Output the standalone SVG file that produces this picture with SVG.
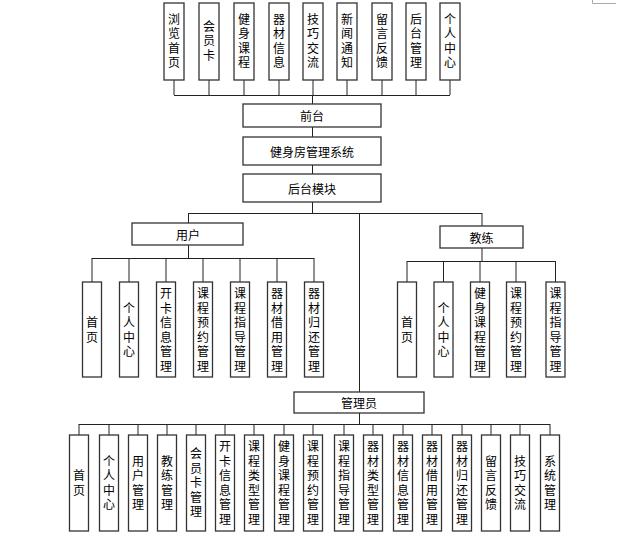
<svg xmlns="http://www.w3.org/2000/svg" width="642" height="545" viewBox="0 0 642 545">
<style>
.box{fill:#fff;stroke:#333;stroke-width:1.3}
.ln{fill:none;stroke:#222;stroke-width:1}
text{font-family:"Noto Sans CJK SC","Noto Sans",sans-serif;font-size:12px;fill:#000;text-anchor:middle;dominant-baseline:central}
text.v{writing-mode:vertical-rl;letter-spacing:2.5px}
</style>
<rect width="642" height="545" fill="#fff"/>
<path d="M592.5 0V3.5H616" fill="none" stroke="#aaa" stroke-width="1"/>
<g id="connectors">
<path class="ln" d="M174 80V95M209 80V95M244 80V95M279 80V95M313 80V95M347 80V95M382 80V95M416 80V95M450 80V95M174 95.5H450M312.5 95V104"/>
<path class="ln" d="M312.5 127V137M312.5 165V174M312.5 202V213"/>
<path class="ln" d="M188 213.5H482M188.5 213V223M482 213V226M359.5 213V392"/>
<path class="ln" d="M188.5 245V258M92 258.5H314M92 258V282M129 258V282M166 258V282M203 258V282M240 258V282M277 258V282M314 258V282"/>
<path class="ln" d="M482 248V261M407 261.5H556M407 261V282M443.5 261V282M480 261V282M516 261V282M555.5 261V282"/>
<path class="ln" d="M359.5 413V424M79 424.5H550M79 424V435M109 424V435M138 424V435M167 424V435M196 424V435M225 424V435M254 424V435M284 424V435M313 424V435M344 424V435M373 424V435M403 424V435M432 424V435M462 424V435M491 424V435M520 424V435M550 424V435"/>
</g>
<g id="top">
<g id="t1"><rect class="box" x="164" y="3" width="20" height="77"/><text class="v" x="174" y="42">浏览首页</text></g>
<g id="t2"><rect class="box" x="199" y="3" width="20" height="77"/><text class="v" x="209" y="42">会员卡</text></g>
<g id="t3"><rect class="box" x="234" y="3" width="20" height="77"/><text class="v" x="244" y="42">健身课程</text></g>
<g id="t4"><rect class="box" x="269" y="3" width="20" height="77"/><text class="v" x="279" y="42">器材信息</text></g>
<g id="t5"><rect class="box" x="303" y="3" width="20" height="77"/><text class="v" x="313" y="42">技巧交流</text></g>
<g id="t6"><rect class="box" x="337" y="3" width="20" height="77"/><text class="v" x="347" y="42">新闻通知</text></g>
<g id="t7"><rect class="box" x="372" y="3" width="20" height="77"/><text class="v" x="382" y="42">留言反馈</text></g>
<g id="t8"><rect class="box" x="406" y="3" width="20" height="77"/><text class="v" x="416" y="42">后台管理</text></g>
<g id="t9"><rect class="box" x="440" y="3" width="20" height="77"/><text class="v" x="450" y="42">个人中心</text></g>
</g>
<g id="qiantai"><rect class="box" x="243" y="104" width="138" height="23"/><text x="312" y="115.5">前台</text></g>
<g id="system"><rect class="box" x="243" y="137" width="138" height="28"/><text x="312" y="151">健身房管理系统</text></g>
<g id="houtai"><rect class="box" x="243" y="174" width="138" height="28"/><text x="312" y="188">后台模块</text></g>
<g id="user"><rect class="box" x="132" y="223" width="111" height="22"/><text x="188" y="234">用户</text></g>
<g id="coach"><rect class="box" x="440" y="226" width="83" height="22"/><text x="481.5" y="237">教练</text></g>
<g id="admin"><rect class="box" x="294" y="392" width="130" height="21"/><text x="359" y="402.5">管理员</text></g>
<g id="user-children">
<g id="u1"><rect class="box" x="82.5" y="282" width="19" height="95"/><text class="v" x="92" y="331">首页</text></g>
<g id="u2"><rect class="box" x="119.5" y="282" width="19" height="95"/><text class="v" x="129" y="331">个人中心</text></g>
<g id="u3"><rect class="box" x="156.5" y="282" width="19" height="95"/><text class="v" x="166" y="331">开卡信息管理</text></g>
<g id="u4"><rect class="box" x="193.5" y="282" width="19" height="95"/><text class="v" x="203" y="331">课程预约管理</text></g>
<g id="u5"><rect class="box" x="230.5" y="282" width="19" height="95"/><text class="v" x="240" y="331">课程指导管理</text></g>
<g id="u6"><rect class="box" x="267.5" y="282" width="19" height="95"/><text class="v" x="277" y="331">器材借用管理</text></g>
<g id="u7"><rect class="box" x="304.5" y="282" width="19" height="95"/><text class="v" x="314" y="331">器材归还管理</text></g>
</g>
<g id="coach-children">
<g id="c1"><rect class="box" x="397.5" y="282" width="19" height="95"/><text class="v" x="407" y="331">首页</text></g>
<g id="c2"><rect class="box" x="434" y="282" width="19" height="95"/><text class="v" x="443.5" y="331">个人中心</text></g>
<g id="c3"><rect class="box" x="470.5" y="282" width="19" height="95"/><text class="v" x="480" y="331">健身课程管理</text></g>
<g id="c4"><rect class="box" x="506.5" y="282" width="19" height="95"/><text class="v" x="516" y="331">课程预约管理</text></g>
<g id="c5"><rect class="box" x="546" y="282" width="19" height="95"/><text class="v" x="555.5" y="331">课程指导管理</text></g>
</g>
<g id="admin-children">
<g id="a1"><rect class="box" x="69.5" y="435" width="19" height="96"/><text class="v" x="79" y="484">首页</text></g>
<g id="a2"><rect class="box" x="99.5" y="435" width="19" height="96"/><text class="v" x="109" y="484">个人中心</text></g>
<g id="a3"><rect class="box" x="128.5" y="435" width="19" height="96"/><text class="v" x="138" y="484">用户管理</text></g>
<g id="a4"><rect class="box" x="157.5" y="435" width="19" height="96"/><text class="v" x="167" y="484">教练管理</text></g>
<g id="a5"><rect class="box" x="186.5" y="435" width="19" height="96"/><text class="v" x="196" y="484">会员卡管理</text></g>
<g id="a6"><rect class="box" x="215.5" y="435" width="19" height="96"/><text class="v" x="225" y="484">开卡信息管理</text></g>
<g id="a7"><rect class="box" x="244.5" y="435" width="19" height="96"/><text class="v" x="254" y="484">课程类型管理</text></g>
<g id="a8"><rect class="box" x="274.5" y="435" width="19" height="96"/><text class="v" x="284" y="484">健身课程管理</text></g>
<g id="a9"><rect class="box" x="303.5" y="435" width="19" height="96"/><text class="v" x="313" y="484">课程预约管理</text></g>
<g id="a10"><rect class="box" x="334.5" y="435" width="19" height="96"/><text class="v" x="344" y="484">课程指导管理</text></g>
<g id="a11"><rect class="box" x="363.5" y="435" width="19" height="96"/><text class="v" x="373" y="484">器材类型管理</text></g>
<g id="a12"><rect class="box" x="393.5" y="435" width="19" height="96"/><text class="v" x="403" y="484">器材信息管理</text></g>
<g id="a13"><rect class="box" x="422.5" y="435" width="19" height="96"/><text class="v" x="432" y="484">器材借用管理</text></g>
<g id="a14"><rect class="box" x="452.5" y="435" width="19" height="96"/><text class="v" x="462" y="484">器材归还管理</text></g>
<g id="a15"><rect class="box" x="481.5" y="435" width="19" height="96"/><text class="v" x="491" y="484">留言反馈</text></g>
<g id="a16"><rect class="box" x="510.5" y="435" width="19" height="96"/><text class="v" x="520" y="484">技巧交流</text></g>
<g id="a17"><rect class="box" x="540.5" y="435" width="19" height="96"/><text class="v" x="550" y="484">系统管理</text></g>
</g>
</svg>
